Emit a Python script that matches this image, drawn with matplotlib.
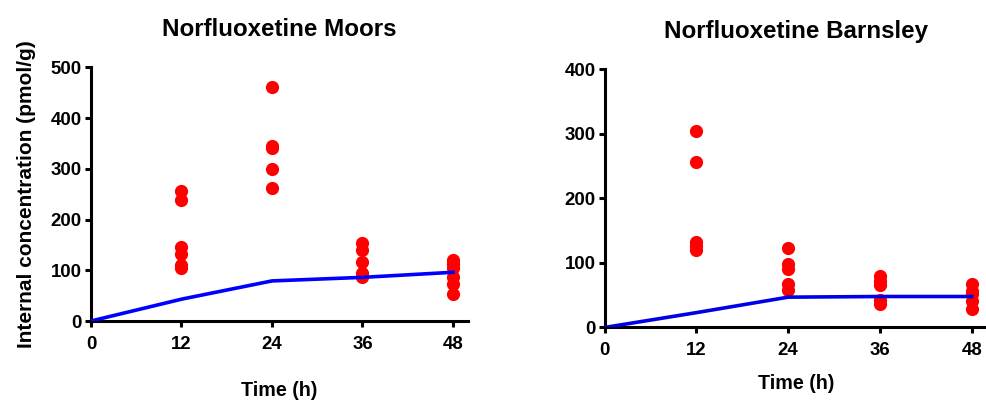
import matplotlib
matplotlib.use("Agg")
import matplotlib.pyplot as plt

plt.rcParams['font.family'] = ['Liberation Sans', 'DejaVu Sans']
plt.rcParams['font.weight'] = 'bold'

# Sampling times (h)
times = [0, 12, 24, 36, 48]
tick_labels = ["0", "12", "24", "36", "48"]

# Measured internal concentrations (pmol/g), Moors
moors_t12 = [256, 239, 145, 133, 110, 104]
moors_t24 = [462, 345, 340, 300, 263]
moors_t36 = [153, 140, 116, 94, 87]
moors_t48 = [120, 112, 104, 87, 73, 53]
moors_model = [0, 43, 79, 86, 96]

# Measured internal concentrations (pmol/g), Barnsley
barn_t12 = [305, 256, 133, 126, 120]
barn_t24 = [123, 98, 90, 67, 58]
barn_t36 = [80, 72, 66, 42, 37]
barn_t48 = [67, 57, 52, 41, 29]
barn_model = [0, 23, 47, 48, 48]

fig = plt.figure(figsize=(9.87, 4.01), dpi=100)

ax1 = fig.add_axes([0.0922, 0.1995, 0.382, 0.6327])
ax2 = fig.add_axes([0.6125, 0.1833, 0.3875, 0.6439])


def draw_panel(ax, groups, model, ymax, title, line_color, ylabel=None, xpad=20):
    for t, vals in zip(times[1:], groups):
        ax.plot([t] * len(vals), vals, 'o', color='#ff0000', markersize=9.5,
                markeredgewidth=0, zorder=3)
    ax.plot(times, model, '-', color=line_color, linewidth=2.6, zorder=4)
    ax.set_xlim(0, 50)
    ax.set_ylim(0, ymax)
    ax.set_xticks(times)
    ax.set_xticklabels(tick_labels)
    ax.set_yticks(range(0, ymax + 1, 100))
    for side in ('top', 'right'):
        ax.spines[side].set_visible(False)
    for side in ('left', 'bottom'):
        ax.spines[side].set_linewidth(2.2)
    ax.tick_params(width=2.2, length=4.5, labelsize=13.4)
    ax.tick_params(axis='x', pad=6)
    ax.tick_params(axis='y', pad=2)
    ax.set_title(title, fontsize=17.4, fontweight='bold', pad=22.5)
    ax.set_xlabel("Time (h)", fontsize=14.2, fontweight='bold', labelpad=xpad)
    if ylabel:
        ax.set_ylabel(ylabel, fontsize=15, fontweight='bold', labelpad=11)


draw_panel(ax1, [moors_t12, moors_t24, moors_t36, moors_t48], moors_model, 500,
           "Norfluoxetine Moors", '#0000ff',
           ylabel="Internal concentration (pmol/g)", xpad=20.5)
draw_panel(ax2, [barn_t12, barn_t24, barn_t36, barn_t48], barn_model, 400,
           "Norfluoxetine Barnsley", '#0000e6', xpad=10.5)

fig.savefig("out.png", dpi=100)
